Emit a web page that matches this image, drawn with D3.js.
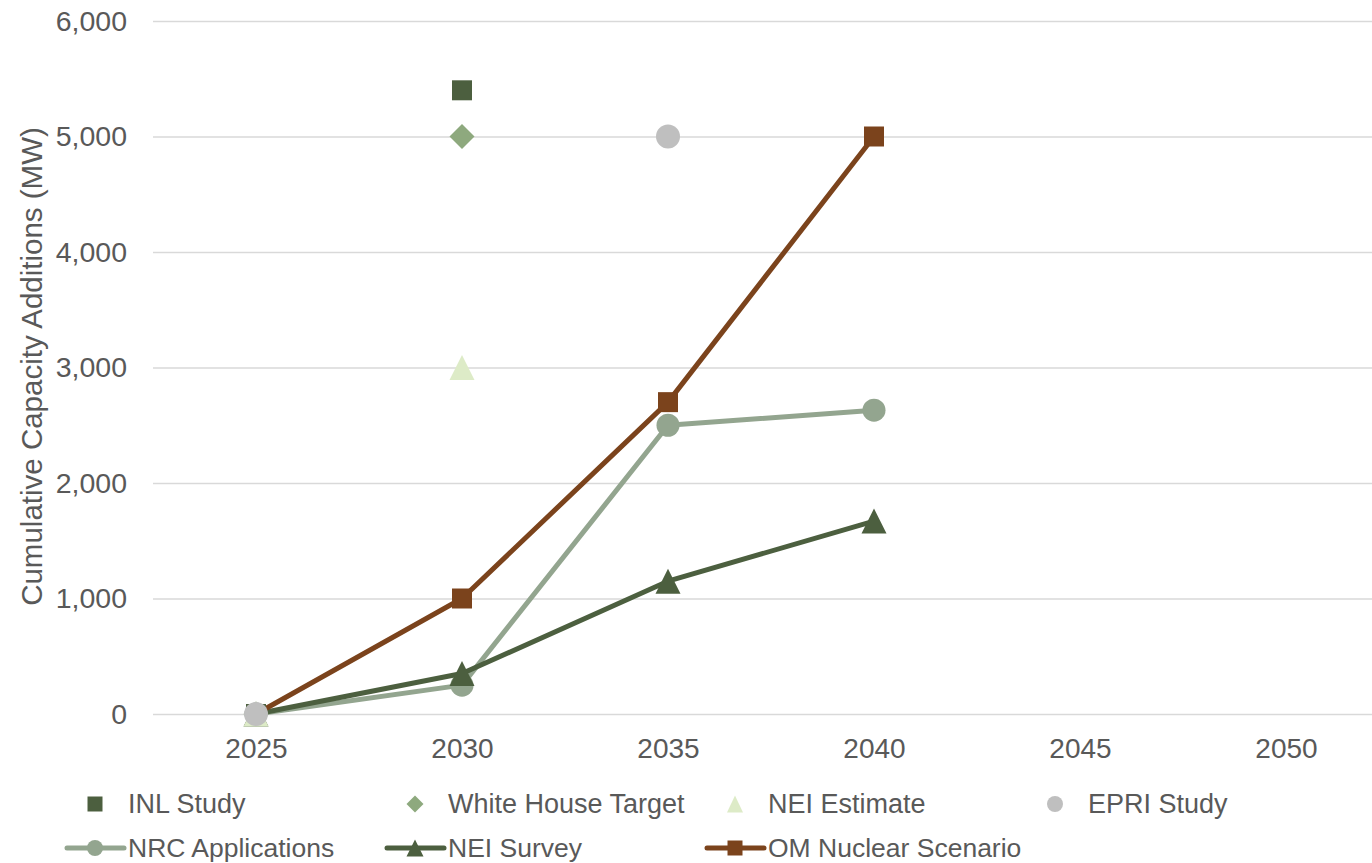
<!DOCTYPE html>
<html><head><meta charset="utf-8">
<script src="https://cdn.jsdelivr.net/npm/d3@7"></script>
<style>
body{margin:0;background:#fff;}
svg text{font-family:"Liberation Sans",Arial,sans-serif;fill:#595959;}
</style>
</head><body><svg id="c" width="1372" height="863"></svg>
<script>
// ---- data ----
const years = ["2025","2030","2035","2040","2045","2050"];
const yTicks = [0,1000,2000,3000,4000,5000,6000];
const inlStudy = [{year:"2025",value:0},{year:"2030",value:5400}];
const whiteHouseTarget = [{year:"2025",value:0},{year:"2030",value:5000}];
const neiEstimate = [{year:"2025",value:0},{year:"2030",value:3000}];
const epriStudy = [{year:"2025",value:0},{year:"2035",value:5000}];
const lineYears = ["2025","2030","2035","2040"];
const nrcApplications = [0,250,2500,2630];
const neiSurvey = [0,350,1150,1670];
const omNuclear = [0,1000,2700,5000];
const legendRow1 = ["INL Study","White House Target","NEI Estimate","EPRI Study"];
const legendRow2 = ["NRC Applications","NEI Survey","OM Nuclear Scenario"];

// ---- styles ----
const C = {
  inl:"#4C5F3F", wh:"#8EA97E", neiEst:"#DDEBC7", epri:"#BFBFBF",
  nrc:"#93A58F", neiSurvey:"#4C5F3F", om:"#7B431C", grid:"#D9D9D9"
};

const svg = d3.select("#c");
const pLeft = 153, pRight = 1372, pTop = 21, pBottom = 714;
const x = d3.scalePoint().domain(years).range([pLeft, pLeft + 6*206]).padding(0.5);
const y = d3.scaleLinear().domain([0,6000]).range([pBottom, pTop]);

// marker shape helpers (size in px)
function squarePath(s){ const h=s/2; return `M${-h},${-h}H${h}V${h}H${-h}Z`; }
function diamondPath(s){ const h=s/2; return `M0,${-h}L${h},0L0,${h}L${-h},0Z`; }
function trianglePath(w,hgt){ return `M0,${-hgt/2}L${w/2},${hgt/2}L${-w/2},${hgt/2}Z`; }
function circlePath(d){ const r=d/2; return `M${r},0A${r},${r} 0 1,1 ${-r},0A${r},${r} 0 1,1 ${r},0Z`; }

// ---- y axis with gridlines ----
const yAxis = d3.axisLeft(y).tickValues(yTicks).tickFormat(d3.format(","))
  .tickSizeInner(-(pRight-pLeft)).tickSizeOuter(0).tickPadding(26);
const gy = svg.append("g").attr("transform",`translate(${pLeft},0)`).call(yAxis);
gy.select(".domain").remove();
gy.selectAll(".tick line").attr("stroke",C.grid).attr("stroke-width",1.5);
gy.selectAll(".tick text").attr("font-size",28.5).attr("fill","#595959");

// ---- x axis ----
const xAxis = d3.axisBottom(x).tickSize(0).tickPadding(24);
const gx = svg.append("g").attr("transform",`translate(0,${pBottom})`).call(xAxis);
gx.select(".domain").remove();
gx.selectAll(".tick text").attr("font-size",28).attr("fill","#595959");

// ---- y title ----
svg.append("text").attr("transform",`translate(31,${(128+605)/2}) rotate(-90)`)
  .attr("text-anchor","middle").attr("dominant-baseline","central")
  .attr("font-size",29.5).text("Cumulative Capacity Additions (MW)");

// ---- lines ----
const lineSeries = [
  {vals:nrcApplications, color:C.nrc, marker:"circle"},
  {vals:neiSurvey, color:C.neiSurvey, marker:"triangle"},
  {vals:omNuclear, color:C.om, marker:"square"}
];
const lineGen = d3.line().x((d,i)=>x(lineYears[i])).y(d=>y(d));
function markerPath(type, big){
  if(type==="circle") return circlePath(big?23:16);
  if(type==="triangle") return big?trianglePath(25,25):trianglePath(17,17);
  if(type==="square") return squarePath(big?20:15);
}
lineSeries.forEach(s=>{
  svg.append("path").datum(s.vals).attr("d",lineGen).attr("fill","none")
    .attr("stroke",s.color).attr("stroke-width",5).attr("stroke-linejoin","round");
  svg.append("g").selectAll("path").data(s.vals).join("path")
    .attr("transform",(d,i)=>`translate(${x(lineYears[i])},${y(d)})`)
    .attr("d",markerPath(s.marker,true)).attr("fill",s.color);
});

// ---- scatter series ----
const scatterSeries = [
  {data:inlStudy, color:C.inl, d:squarePath(20)},
  {data:whiteHouseTarget, color:C.wh, d:diamondPath(25)},
  {data:neiEstimate, color:C.neiEst, d:trianglePath(25,25)},
  {data:epriStudy, color:C.epri, d:circlePath(24)}
];
scatterSeries.forEach(s=>{
  svg.append("g").selectAll("path").data(s.data).join("path")
    .attr("transform",d=>`translate(${x(d.year)},${y(d.value)})`)
    .attr("d",s.d).attr("fill",s.color);
});

// ---- legend ----
const lg = svg.append("g");
const colX = i => 95 + i*320;
const row1Y = 804, row2Y = 848;
const row1Marks = [squarePath(15), diamondPath(17), trianglePath(16,17), circlePath(16)];
const row1Colors = [C.inl, C.wh, C.neiEst, C.epri];
legendRow1.forEach((lab,i)=>{
  lg.append("path").attr("transform",`translate(${colX(i)},${row1Y})`).attr("d",row1Marks[i]).attr("fill",row1Colors[i]);
  lg.append("text").attr("x",colX(i)+33).attr("y",row1Y).attr("dominant-baseline","central")
    .attr("font-size",27).text(lab);
});
legendRow2.forEach((lab,i)=>{
  const s = lineSeries[i];
  lg.append("line").attr("x1",colX(i)-28).attr("x2",colX(i)+29).attr("y1",row2Y).attr("y2",row2Y)
    .attr("stroke",s.color).attr("stroke-width",5).attr("stroke-linecap","round");
  lg.append("path").attr("transform",`translate(${colX(i)},${row2Y})`).attr("d",markerPath(s.marker,false)).attr("fill",s.color);
  lg.append("text").attr("x",colX(i)+33).attr("y",row2Y).attr("dominant-baseline","central")
    .attr("font-size",26.5).text(lab);
});
</script>
</body></html>
